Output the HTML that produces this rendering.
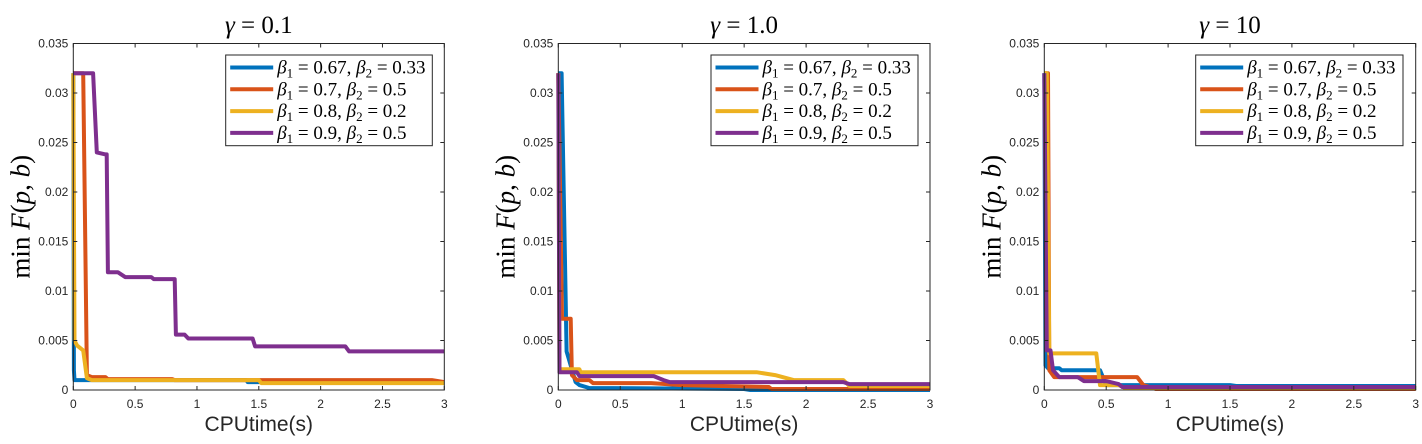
<!DOCTYPE html>
<html><head><meta charset="utf-8">
<style>
html,body{margin:0;padding:0;background:#fff;}
svg{display:block;}
.tick{font-family:"Liberation Sans",sans-serif;font-size:12px;fill:#262626;}
.xl{font-family:"Liberation Sans",sans-serif;font-size:21px;fill:#262626;}
.ser{font-family:"Liberation Serif",serif;fill:#000;}
</style></head>
<body>
<svg id="chart" width="1422" height="444" viewBox="0 0 1422 444" xmlns="http://www.w3.org/2000/svg"></svg>
<script>
const xTicks = [0, 0.5, 1, 1.5, 2, 2.5, 3];
const yTicks = [0, 0.005, 0.01, 0.015, 0.02, 0.025, 0.03, 0.035];
const xTickLabels = ["0","0.5","1","1.5","2","2.5","3"];
const yTickLabels = ["0","0.005","0.01","0.015","0.02","0.025","0.03","0.035"];
const panelTitles = ["0.1", "1.0", "10"];
const seriesNames = ["0.67|0.33", "0.7|0.5", "0.8|0.2", "0.9|0.5"];

// Panel 1 (gamma = 0.1)
const p1BlueT = [0, 0.005, 0.01, 1.4, 1.41, 3];
const p1BlueV = [0.032, 0.002, 0.001, 0.001, 0.0008, 0.0008];
const p1RedT = [0, 0.08, 0.11, 0.15, 0.26, 0.28, 0.8, 0.82, 2.9, 3];
const p1RedV = [0.032, 0.032, 0.0015, 0.0013, 0.0013, 0.0011, 0.0011, 0.001, 0.001, 0.0008];
const p1YellowT = [0, 0.01, 0.03, 0.08, 0.11, 0.15, 1.5, 1.52, 3];
const p1YellowV = [0.032, 0.005, 0.0045, 0.004, 0.0012, 0.001, 0.001, 0.0007, 0.0007];
const p1PurpleT = [0, 0.16, 0.19, 0.26, 0.27, 0.28, 0.36, 0.42, 0.63, 0.65, 0.82, 0.83, 0.9, 0.93, 1.45, 1.47, 2.2, 2.23, 3];
const p1PurpleV = [0.032, 0.032, 0.024, 0.0238, 0.0238, 0.0119, 0.0119, 0.0114, 0.0114, 0.0112, 0.0112, 0.0056, 0.0056, 0.0052, 0.0052, 0.0044, 0.0044, 0.0039, 0.0039];

// Panel 2 (gamma = 1.0)
const p2BlueT = [0, 0.027, 0.067, 0.14, 0.17, 0.25, 1.5, 1.55, 3];
const p2BlueV = [0.032, 0.032, 0.0039, 0.0008, 0.0005, 0.0002, 0.0001, 0.0, 0.0];
const p2RedT = [0, 0.03, 0.1, 0.11, 0.15, 0.25, 0.28, 0.75, 1.0, 1.7, 1.72, 3];
const p2RedV = [0.032, 0.0072, 0.0072, 0.0015, 0.001, 0.001, 0.0007, 0.0007, 0.0005, 0.0003, 0.0001, 0.0001];
const p2YellowT = [0, 0.01, 0.17, 0.18, 1.6, 1.75, 1.9, 2.3, 2.35, 3];
const p2YellowV = [0.032, 0.0021, 0.0021, 0.0018, 0.0018, 0.0015, 0.001, 0.001, 0.0004, 0.0004];
const p2PurpleT = [0, 0.01, 0.15, 0.17, 0.77, 0.85, 0.9, 2.3, 2.35, 3];
const p2PurpleV = [0.032, 0.0018, 0.0018, 0.0014, 0.0014, 0.001, 0.0008, 0.0008, 0.0006, 0.0006];

// Panel 3 (gamma = 10)
const p3BlueT = [0, 0.01, 0.03, 0.12, 0.14, 0.45, 0.5, 1.5, 1.55, 3];
const p3BlueV = [0.032, 0.0025, 0.0022, 0.0022, 0.002, 0.002, 0.0005, 0.0005, 0.0004, 0.0004];
const p3RedT = [0, 0.03, 0.04, 0.08, 0.75, 0.8, 0.9, 3];
const p3RedV = [0.032, 0.032, 0.002, 0.0013, 0.0013, 0.0005, 0.0001, 0.0001];
const p3YellowT = [0, 0.02, 0.04, 0.42, 0.45, 0.6, 0.65, 3];
const p3YellowV = [0.032, 0.032, 0.0037, 0.0037, 0.0005, 0.0005, 0.0002, 0.0002];
const p3PurpleT = [0, 0.02, 0.05, 0.07, 0.12, 0.27, 0.32, 0.5, 0.6, 0.63, 3];
const p3PurpleV = [0.032, 0.004, 0.004, 0.002, 0.0013, 0.0013, 0.0009, 0.0009, 0.0006, 0.0003, 0.0003];

const panelsData = [
  [[p1BlueT,p1BlueV],[p1RedT,p1RedV],[p1YellowT,p1YellowV],[p1PurpleT,p1PurpleV]],
  [[p2BlueT,p2BlueV],[p2RedT,p2RedV],[p2YellowT,p2YellowV],[p2PurpleT,p2PurpleV]],
  [[p3BlueT,p3BlueV],[p3RedT,p3RedV],[p3YellowT,p3YellowV],[p3PurpleT,p3PurpleV]]
];

const colors = ["#0072BD", "#D95319", "#EDB120", "#7E2F8E"];
const colorNames = ["blue","red","yellow","purple"];
const boxes = [{l:73.3,r:444.3},{l:558.3,r:930},{l:1044.3,r:1415.7}];
const legendBoxes = [{l:225.7,r:432.3},{l:711,r:918},{l:1195.7,r:1403}];
const plotTop = 43.5, plotBottom = 390;
const NS = "http://www.w3.org/2000/svg";
const svg = document.getElementById("chart");
function mk(tag, attrs, parent){ const e=document.createElementNS(NS,tag); for(const k in attrs) e.setAttribute(k,attrs[k]); (parent||svg).appendChild(e); return e; }

panelsData.forEach((series, pi) => {
  const b = boxes[pi];
  const xS = v => b.l + (v/3)*(b.r-b.l);
  const yS = v => plotBottom - (v/0.035)*(plotBottom-plotTop);
  const g = mk("g", {});
  
  
  const cx = (b.l+b.r)/2;
  const t = mk("text", {x:cx, y:33, "text-anchor":"middle", class:"ser", "font-size":"25"}, g);
  
  
  t.innerHTML = '<tspan font-style="italic">γ</tspan> = ' + panelTitles[pi];
  mk("rect", {x:b.l, y:plotTop, width:b.r-b.l, height:plotBottom-plotTop, fill:"#fff"}, g);
  series.forEach((s, si) => {
    const pts = s[0].map((tv,i) => xS(tv).toFixed(1)+","+yS(s[1][i]).toFixed(1)).join(" ");
    const pl = mk("polyline", {points:pts, fill:"none", stroke:colors[si], "stroke-width":"4", "stroke-linejoin":"round"}, g);
    
    
  });
  const ax = mk("rect", {x:b.l, y:plotTop, width:b.r-b.l, height:plotBottom-plotTop, fill:"none", stroke:"#262626", "stroke-width":"1"}, g);
  
  
  xTicks.forEach((v,i) => {
    const x = xS(v);
    mk("line", {x1:x, y1:plotBottom, x2:x, y2:plotBottom-4, stroke:"#262626"}, g);
    mk("line", {x1:x, y1:plotTop, x2:x, y2:plotTop+4, stroke:"#262626"}, g);
    const tl = mk("text", {x:x, y:plotBottom+18, "text-anchor":"middle", class:"tick"}, g);
    
    
    tl.textContent = xTickLabels[i];
  });
  yTicks.forEach((v,i) => {
    const y = yS(v);
    mk("line", {x1:b.l, y1:y, x2:b.l+4, y2:y, stroke:"#262626"}, g);
    mk("line", {x1:b.r, y1:y, x2:b.r-4, y2:y, stroke:"#262626"}, g);
    const tl = mk("text", {x:b.l-5, y:y+4, "text-anchor":"end", class:"tick"}, g);
    
    
    tl.textContent = yTickLabels[i];
  });
  const xl = mk("text", {x:cx, y:431, "text-anchor":"middle", class:"xl"}, g);
  
  
  xl.textContent = "CPUtime(s)";
  const yx = b.l - 44, yy = (plotTop+plotBottom)/2;
  const yl = mk("text", {x:yx, y:yy, "text-anchor":"middle", class:"ser", "font-size":"27", transform:`rotate(-90 ${yx} ${yy})`}, g);
  
  
  yl.innerHTML = 'min <tspan font-style="italic">F</tspan>(<tspan font-style="italic">p</tspan>, <tspan font-style="italic">b</tspan>)';
  const lb = legendBoxes[pi];
  const lg = mk("g", {}, g);
  
  
  mk("rect", {x:lb.l, y:55, width:lb.r-lb.l, height:90.7, fill:"#fff", stroke:"#262626", "stroke-width":"1"}, lg);
  seriesNames.forEach((nm, si) => {
    const y = 67.5 + si*21.8;
    const e = mk("g", {}, lg);
    
    
    mk("line", {x1:lb.l+4.5, y1:y, x2:lb.l+47.5, y2:y, stroke:colors[si], "stroke-width":"4"}, e);
    const p = nm.split("|");
    const tx = mk("text", {x:lb.l+51.5, y:y+6, class:"ser", "font-size":"19"}, e);
    tx.innerHTML = '<tspan font-style="italic">β</tspan><tspan font-size="13" dy="4">1</tspan><tspan dy="-4"> = ' + p[0] + ', </tspan><tspan font-style="italic">β</tspan><tspan font-size="13" dy="4">2</tspan><tspan dy="-4"> = ' + p[1] + '</tspan>';
  });
});
</script>
</body></html>
